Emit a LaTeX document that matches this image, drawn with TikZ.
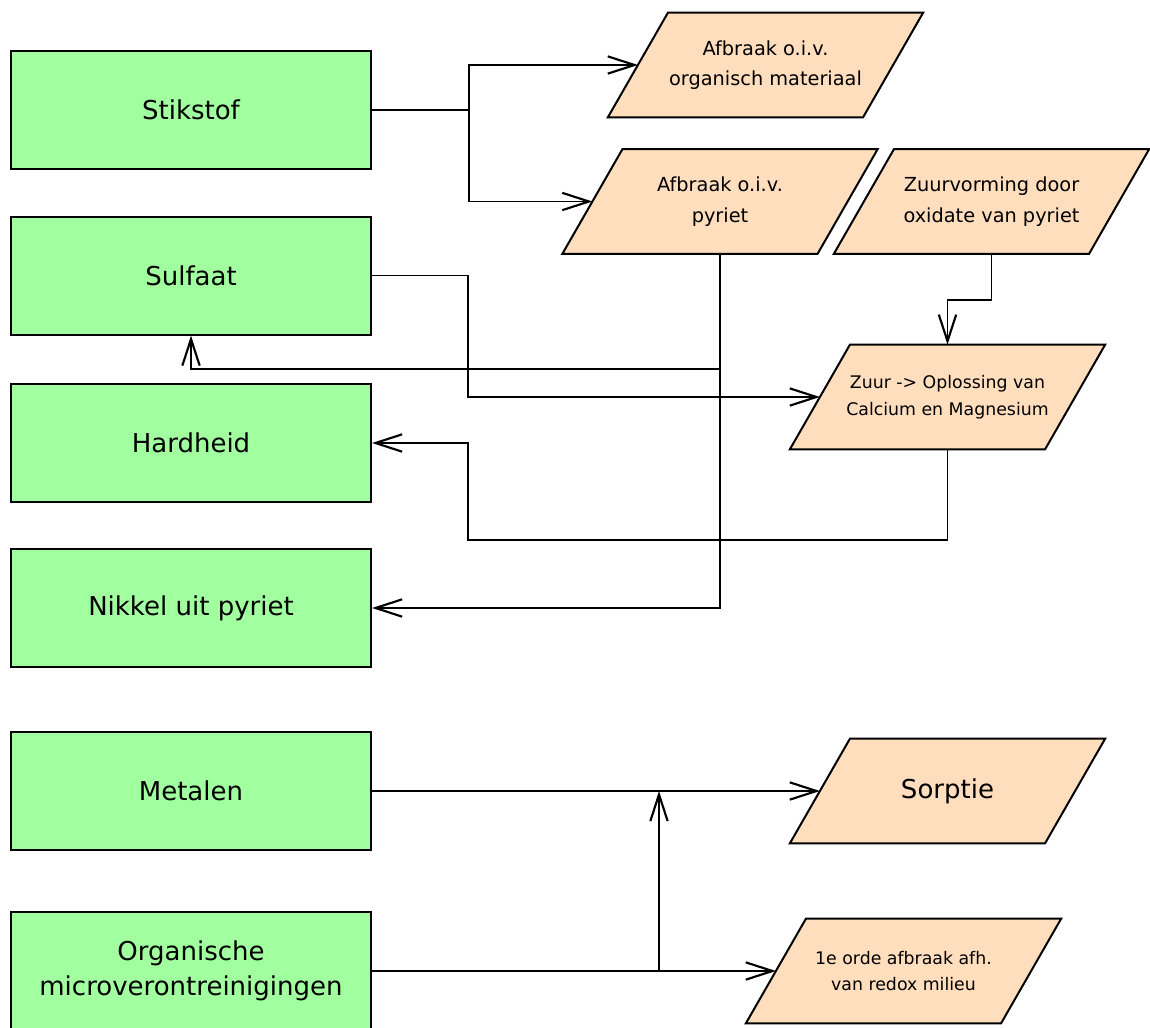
\documentclass[tikz,border=0pt]{standalone}
\usepackage{fontspec}
\setmainfont{DejaVu Sans}
\usetikzlibrary{arrows.meta,calc,backgrounds}
\definecolor{boxgreen}{HTML}{A2FFA0}
\definecolor{parafill}{HTML}{FFDEBE}
\begin{document}
\begin{tikzpicture}[x=0.75pt,y=-0.75pt,
  gbox/.style={draw=black,line width=1.5pt,fill=boxgreen,minimum width=270pt,minimum height=88.5pt,inner sep=0pt,align=center,font=\fontsize{19.5}{26}\selectfont},
  pbox/.style={minimum width=236pt,minimum height=78pt,inner sep=0pt,align=center,font=\fontsize{14.5}{23}\selectfont},
  psmall/.style={font=\fontsize{13}{20}\selectfont},
  pbig/.style={font=\fontsize{19.5}{26}\selectfont},
  conn/.style={line width=1.4pt,-{Straight Barb[length=20pt,width=13pt,line width=1.6pt]}},
  para/.style={fill=parafill,draw=black,line width=1.5pt,line join=miter}]
\useasboundingbox (0,0) rectangle (1150,1028);
\clip (0,0) rectangle (1150,1028);

% green boxes
\node[gbox] (stik) at (191,110) {Stikstof};
\node[gbox] (sulf) at (191,275.5) {Sulfaat};
\node[gbox] (hard) at (191,443) {Hardheid};
\node[gbox] (nik) at (191,608) {Nikkel uit pyriet};
\node[gbox] (met) at (191,791) {Metalen};
\node[gbox] (org) at (191,971) {Organische\\microverontreinigingen};

% parallelogram texts
\node[pbox] (p1) at (765.5,65) {Afbraak o.i.v.\\organisch materiaal};
\node[pbox] (p2) at (720,201.5) {Afbraak o.i.v.\\pyriet};
\node[pbox] (p3) at (991.5,201.5) {Zuurvorming door\\oxidate van pyriet};
\node[pbox,psmall] (p4) at (947.5,397) {Zuur -> Oplossing van\\Calcium en Magnesium};
\node[pbox,pbig] (p5) at (947.5,791) {Sorptie};
\node[pbox,psmall] (p6) at (903.5,971) {1e orde afbraak afh.\\van redox milieu};

\begin{scope}[on background layer]
\foreach \p in {p1,p2,p3,p4,p5,p6}
  \path[para] ($(\p.north west)+(60,0)$) -- (\p.north east) -- ($(\p.south east)+(-60,0)$) -- (\p.south west) -- cycle;
\end{scope}

\foreach \p in {p1,p2,p4,p5,p6}
  \coordinate (\p l) at ($(\p.west)+(30,0)$);
\coordinate (mj) at (659,791);

% connectors
\draw[conn] (stik.east) -- (469,110) |- (p1l);
\draw[conn] (stik.east) -- (469,110) |- (p2l);
\draw[conn] (sulf.east) -- (468,275.5) |- (p4l);
\draw[conn] (p2.south) -- ++(0,115.5) -| (sulf.south);
\draw[conn] (p2.south) |- (nik.east);
\draw[conn] (p3.south) -- ++(0,46) -| (p4.north);
\draw[conn] (p4.south) |- (468,540) |- (hard.east);
\draw[conn] (met.east) -- (p5l);
\draw[conn] (org.east) -- (p6l);
\draw[conn] (org.east) -| (mj);
\end{tikzpicture}
\end{document}
